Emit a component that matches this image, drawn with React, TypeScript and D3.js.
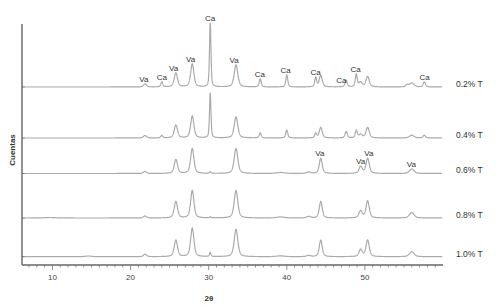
import React from "react";
import * as d3 from "d3";

// ---- data ----
const seriesNames = ["0.2% T", "0.4% T", "0.6% T", "0.8% T", "1.0% T"];
// vertical stacking offset of each trace (counts)
const seriesOffsets = [1780, 1270, 915, 470, 83];

// peak positions (2θ) and widths (FWHM, °2θ)
const peakPos = [9.7, 14.6, 21.85, 24.0, 25.8, 27.9, 30.2, 33.5, 36.6, 39.2, 40.0, 42.8, 43.7, 44.35, 47.6, 48.9, 49.45, 50.35, 55.4, 56.0, 57.6];
const peakWidth = [1.5, 1.0, 0.45, 0.3, 0.5, 0.5, 0.22, 0.55, 0.3, 1.2, 0.3, 0.6, 0.3, 0.45, 0.35, 0.3, 0.5, 0.5, 0.35, 0.7, 0.35];

// peak intensities (counts) for each trace
const int02 = [0, 0, 30, 50, 140, 230, 640, 220, 80, 0, 120, 0, 95, 115, 65, 125, 45, 105, 20, 40, 50];
const int04 = [0, 0, 25, 25, 130, 220, 450, 210, 50, 0, 80, 0, 45, 105, 65, 75, 35, 105, 0, 28, 28];
const int06 = [0, 0, 20, 0, 140, 250, 15, 250, 0, 10, 0, 15, 0, 150, 0, 0, 70, 150, 0, 45, 0];
const int08 = [5, 0, 20, 0, 165, 275, 10, 275, 0, 10, 0, 15, 0, 165, 0, 0, 70, 170, 0, 55, 0];
const int10 = [0, 7, 25, 0, 165, 285, 40, 275, 0, 8, 0, 12, 0, 165, 0, 0, 70, 165, 0, 50, 0];
const intensities = [int02, int04, int06, int08, int10];

// phase labels: [phase, 2θ] for the 0.2% and 0.6% traces
const labels02: [string, number][] = [
  ["Va", 21.7], ["Ca", 24.0], ["Va", 25.5], ["Va", 27.7], ["Ca", 30.17], ["Va", 33.27],
  ["Ca", 36.56], ["Ca", 39.85], ["Ca", 43.68], ["Ca", 47.0], ["Ca", 48.8], ["Ca", 57.66],
];
const labels06: [string, number][] = [["Va", 44.23], ["Va", 49.44], ["Va", 50.5], ["Va", 55.96]];
const seriesLabels = [labels02, [], labels06, [], []];

const xTicks = [10, 20, 30, 40, 50];
const xMinorTicks = d3.range(7, 60, 1);

// ---- layout ----
const W = 496, H = 307;
const left = 22, right = 443, top = 24, bottom = 265;

const x = d3.scaleLinear().domain([6.1, 60]).range([left, right]);
const y = d3.scaleLinear().domain([0, 2410]).range([bottom, top]);

function pv(t: number, pos: number, w: number, h: number) {
  const d = (t - pos) / (w / 2);
  return h * (0.5 / (1 + d * d) + 0.5 * Math.exp(-Math.LN2 * d * d));
}
function intensityAt(t: number, ints: number[]) {
  let s = 0;
  for (let i = 0; i < peakPos.length; i++) if (ints[i]) s += pv(t, peakPos[i], peakWidth[i], ints[i]);
  return s;
}

const grid = d3.range(6.3, 59.92, 0.02);

export default function App() {
  const font = "'Liberation Sans', Arial, sans-serif";
  const line = d3.line<[number, number]>().x((d) => x(d[0])).y((d) => y(d[1]));

  return (
    <svg width={W} height={H} style={{ display: "block", position: "absolute", left: 0, top: 0 }} fontFamily={font}>
      <rect width={W} height={H} fill="#fff" />
      {seriesNames.map((name, si) => {
        const off = seriesOffsets[si];
        const ints = intensities[si];
        const pts: [number, number][] = grid.map((t) => [t, off + intensityAt(t, ints)]);
        return (
          <g key={name}>
            <path d={line(pts) || ""} fill="none" stroke="#ababab" strokeWidth={1.2} />
            <line x1={left} x2={left + 2.5} y1={y(off)} y2={y(off)} stroke="#777" strokeWidth={1} />
            <text x={456} y={y(off) - 3} dy="0.35em" fontSize={8.5} fill="#333">{name}</text>
            {seriesLabels[si].map(([ph, pos], li) => {
              let m = 0;
              for (let t = pos - 0.35; t <= pos + 0.35; t += 0.02) m = Math.max(m, intensityAt(t, ints));
              return (
                <text key={li} x={x(pos)} y={y(off + m) - 5} dy="0.35em" textAnchor="middle" fontSize={8} fill="#333">{ph}</text>
              );
            })}
          </g>
        );
      })}
      {/* axes */}
      <line x1={left} x2={left} y1={top} y2={bottom} stroke="#666" strokeWidth={1.4} />
      <line x1={left} x2={right} y1={bottom} y2={bottom} stroke="#666" strokeWidth={1.4} />
      {xMinorTicks.map((t) => (
        <line key={"m" + t} x1={x(t)} x2={x(t)} y1={bottom} y2={bottom + (t % 10 === 0 ? 5 : 2.5)} stroke="#777" strokeWidth={0.8} />
      ))}
      {xTicks.map((t) => (
        <text key={t} x={x(t)} y={277} dy="0.35em" textAnchor="middle" fontSize={8} fill="#444">{t}</text>
      ))}
      <text x={209} y={298} dy="0.35em" textAnchor="middle" fontSize={8} fontWeight="bold" fill="#333">2θ</text>
      <text transform="translate(12,150) rotate(-90)" dy="0.35em" textAnchor="middle" fontSize={8} fontWeight="bold" fill="#333">Cuentas</text>
    </svg>
  );
}
